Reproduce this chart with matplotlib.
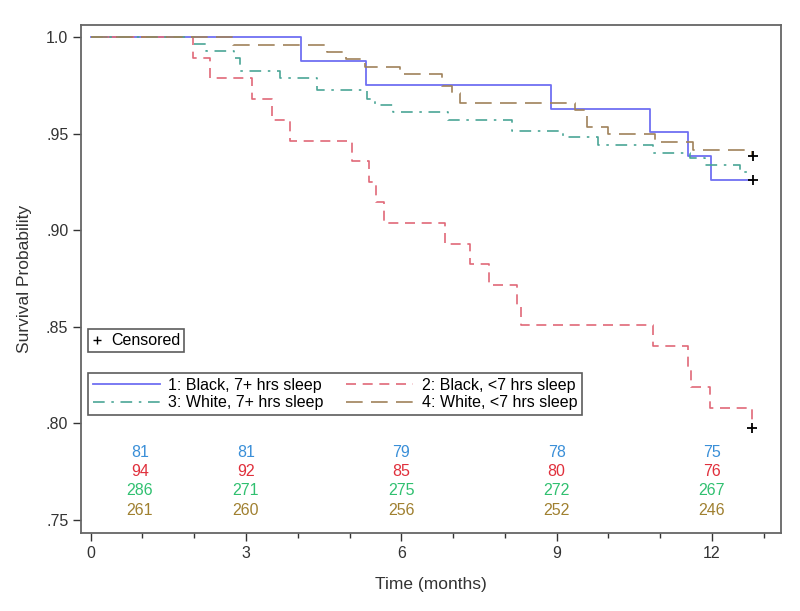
import matplotlib
matplotlib.use("Agg")
import matplotlib.pyplot as plt
from matplotlib.lines import Line2D

plt.rcParams['font.family'] = ['Liberation Sans', 'DejaVu Sans']

# Kaplan-Meier step data (time in months, survival)
black7_t = [0, 4.06, 5.31, 8.89, 10.80, 11.53, 11.99, 12.77]
black7_s = [1.0, 0.9877, 0.9753, 0.9630, 0.9506, 0.9383, 0.9259, 0.9259]

black_lt7_t = [0, 1.97, 2.31, 3.12, 3.50, 3.86, 5.04, 5.38, 5.52, 5.66, 6.84,
               7.32, 7.69, 8.23, 8.32, 10.87, 11.53, 11.60, 11.96, 12.77]
black_lt7_s = [1.0, 0.9894, 0.9787, 0.9680, 0.9570, 0.9460, 0.9358, 0.9250,
               0.9148, 0.9040, 0.8930, 0.8825, 0.8716, 0.8613, 0.8510, 0.8400,
               0.8294, 0.8187, 0.8078, 0.7976]

white7_t = [0, 1.99, 2.22, 2.77, 2.88, 3.65, 4.37, 5.33, 5.50, 5.84, 6.90,
            8.13, 9.13, 9.80, 10.87, 11.57, 11.86, 12.54, 12.77]
white7_s = [1.0, 0.9965, 0.9930, 0.9890, 0.9825, 0.9790, 0.9726, 0.9680,
            0.9648, 0.9613, 0.9570, 0.9515, 0.9484, 0.9440, 0.9398, 0.9372,
            0.9337, 0.9303, 0.9303]

white_lt7_t = [0, 2.75, 4.57, 4.94, 5.29, 5.97, 6.78, 6.97, 7.13, 9.35, 9.58,
               10.00, 10.90, 11.64, 12.77]
white_lt7_s = [1.0, 0.9960, 0.9924, 0.9885, 0.9846, 0.9808, 0.9745, 0.9710,
               0.9657, 0.9622, 0.9536, 0.9498, 0.9458, 0.9415, 0.9380]

# censored points at end of follow-up
cens_t = [12.79, 12.79, 12.77]
cens_s = [0.9259, 0.9385, 0.7976]

# numbers at risk
risk_t = [0.95, 3, 6, 9, 12]
risk_black7 = [81, 81, 79, 78, 75]
risk_black_lt7 = [94, 92, 85, 80, 76]
risk_white7 = [286, 271, 275, 272, 267]
risk_white_lt7 = [261, 260, 256, 252, 246]
risk_y = [0.7852, 0.7754, 0.7652, 0.7552]

c_blue = '#6f6ff2'
c_red = '#e06878'
c_teal = '#4aa596'
c_brown = '#a0825a'

fig = plt.figure(figsize=(8, 6.11), dpi=100)
ax = fig.add_axes([0.101, 0.1276, 0.875, 0.8314])

l1, = ax.step(black7_t, black7_s, where='post', color=c_blue, lw=1.3)
l2, = ax.step(black_lt7_t, black_lt7_s, where='post', color=c_red, lw=1.2,
              dashes=(6, 4))
l3, = ax.step(white7_t, white7_s, where='post', color=c_teal, lw=1.2,
              dashes=(7, 4, 1.5, 4))
l4, = ax.step(white_lt7_t, white_lt7_s, where='post', color=c_brown, lw=1.2,
              dashes=(10, 5))
ax.plot(cens_t, cens_s, ls='none', marker='+', color='black', ms=7, mew=1.3)

# risk table inside the plot
for vals, col, y in zip([risk_black7, risk_black_lt7, risk_white7, risk_white_lt7],
                        ['#3a8fd8', '#e0303c', '#30c070', '#a08030'], risk_y):
    for t, v in zip(risk_t, vals):
        ax.text(t, y, str(v), color=col, fontsize=11.5, ha='center', va='center')

ax.set_xlim(-0.19, 13.33)
ax.set_ylim(0.7433, 1.0062)
ax.set_xticks([0, 3, 6, 9, 12])
ax.set_xticks(range(0, 14), minor=True)
ax.set_yticks([0.75, 0.80, 0.85, 0.90, 0.95, 1.0])
ax.set_yticklabels(['.75', '.80', '.85', '.90', '.95', '1.0'])
ax.tick_params(axis='both', labelsize=11.5, colors='#333333', direction='out',
               length=6, width=1, pad=3)
ax.tick_params(axis='x', which='minor', length=3.5, width=1, colors='#333333')
for s in ax.spines.values():
    s.set_color('#666666')
    s.set_linewidth(1.3)

ax.set_xlabel('Time (months)', fontsize=12.5, color='#333333', labelpad=12)
ax.set_ylabel('Survival Probability', fontsize=12.5, color='#333333', labelpad=10)

cens_handle = Line2D([], [], ls='none', marker='+', color='black', ms=6, mew=1)
leg_c = ax.legend([cens_handle], ['Censored'], loc='lower left',
                  bbox_to_anchor=(0.01, 0.356), fontsize=11.5, frameon=True,
                  fancybox=False, edgecolor='#333333', handlelength=0.6,
                  handletextpad=0.6, borderpad=0.25, borderaxespad=0)
leg_c.get_frame().set_linewidth(1.2)
ax.add_artist(leg_c)

# legend fills column-wise, so order handles to read 1,2 / 3,4 by row
leg = ax.legend([l1, l3, l2, l4],
                ['1: Black, 7+ hrs sleep', '3: White, 7+ hrs sleep',
                 '2: Black, <7 hrs sleep', '4: White, <7 hrs sleep'],
                ncol=2, loc='lower left', bbox_to_anchor=(0.01, 0.232),
                fontsize=11.5, frameon=True, fancybox=False, edgecolor='#333333',
                handlelength=4.2, handletextpad=0.55, columnspacing=1.4,
                labelspacing=0.18, borderpad=0.3, borderaxespad=0)
leg.get_frame().set_linewidth(1.2)

fig.savefig('out.png', dpi=100)
